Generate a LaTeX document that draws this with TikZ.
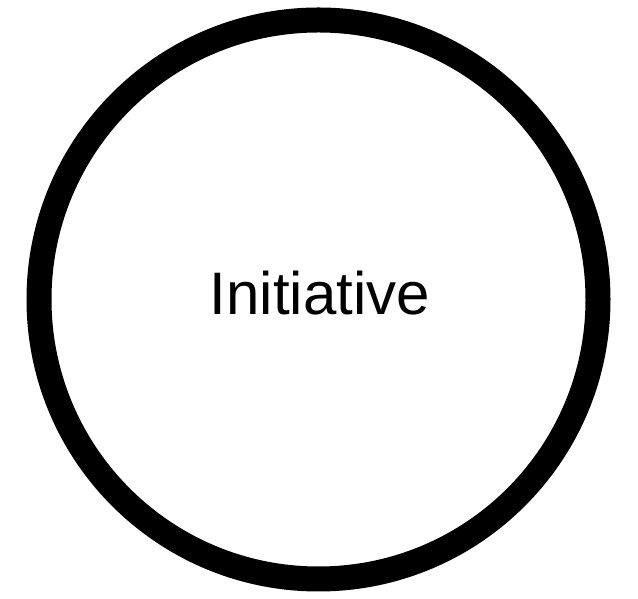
\documentclass[tikz,border=0pt]{standalone}
\usepackage{fontspec}
\setmainfont{Liberation Sans}
\usepackage{tikz}

\begin{document}
\begin{tikzpicture}[x=1pt, y=1pt, color=black]
		\useasboundingbox (0,0) rectangle (638,599);
		\draw[line width=25pt] (318.5,299.5) circle (279.5);
		
		\begin{scope}[font=\fontsize{60}{66}\selectfont]
			\node[inner sep=0pt, anchor=base] (initiative) at (320,284) {Initiative};
		\end{scope}
	\end{tikzpicture}
\end{document}
